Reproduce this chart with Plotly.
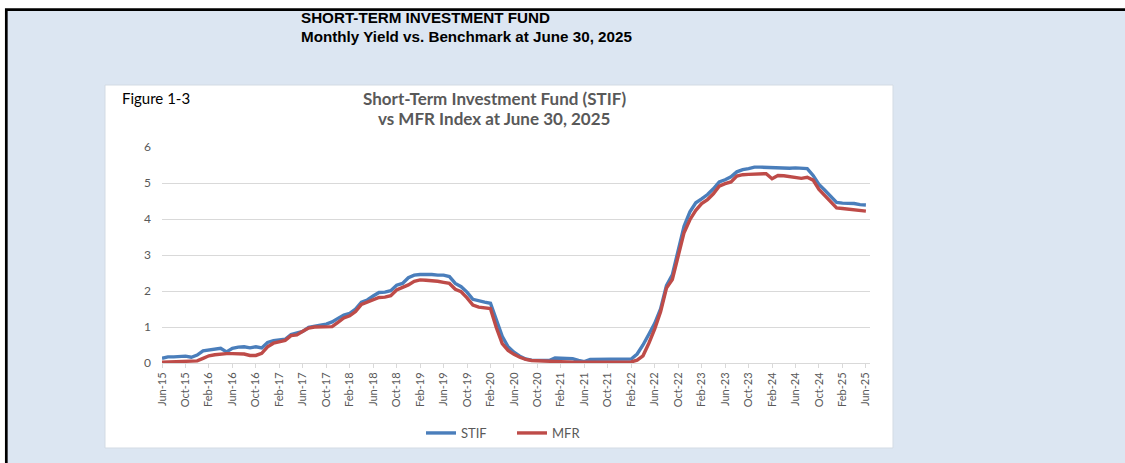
import plotly.graph_objects as go
import pandas as pd

# ---------------- data ----------------
months = pd.date_range("2015-06-01", periods=121, freq="MS").strftime("%b-%y").tolist()
tick_labels = months[::4]

stif = [0.13, 0.17, 0.17, 0.17, 0.19, 0.16, 0.22, 0.34, 0.37, 0.40,
        0.41, 0.31, 0.41, 0.44, 0.45, 0.42, 0.45, 0.42, 0.57, 0.62,
        0.64, 0.66, 0.79, 0.83, 0.88, 0.99, 1.03, 1.05, 1.08, 1.14,
        1.24, 1.33, 1.38, 1.50, 1.69, 1.75, 1.86, 1.96, 1.97, 2.01,
        2.16, 2.21, 2.37, 2.44, 2.46, 2.47, 2.46, 2.44, 2.44, 2.40,
        2.21, 2.12, 1.97, 1.77, 1.72, 1.69, 1.66, 1.21, 0.74, 0.45,
        0.30, 0.19, 0.11, 0.08, 0.07, 0.07, 0.07, 0.14, 0.13, 0.12,
        0.12, 0.07, 0.04, 0.10, 0.10, 0.09, 0.09, 0.09, 0.10, 0.10,
        0.11, 0.25, 0.50, 0.80, 1.10, 1.50, 2.15, 2.45, 3.10, 3.80,
        4.20, 4.45, 4.56, 4.68, 4.84, 5.03, 5.09, 5.17, 5.31, 5.37,
        5.40, 5.44, 5.44, 5.43, 5.43, 5.42, 5.42, 5.41, 5.42, 5.41,
        5.40, 5.21, 4.96, 4.80, 4.63, 4.46, 4.44, 4.44, 4.43, 4.40,
        4.39]

mfr = [0.02, 0.03, 0.03, 0.04, 0.05, 0.05, 0.06, 0.13, 0.20, 0.23,
       0.25, 0.26, 0.26, 0.26, 0.25, 0.21, 0.21, 0.27, 0.45, 0.55,
       0.58, 0.63, 0.76, 0.78, 0.88, 0.97, 1.00, 1.01, 1.00, 1.01,
       1.13, 1.25, 1.31, 1.43, 1.63, 1.70, 1.77, 1.82, 1.83, 1.87,
       2.03, 2.10, 2.17, 2.27, 2.31, 2.30, 2.29, 2.27, 2.24, 2.21,
       2.05, 1.98, 1.81, 1.61, 1.55, 1.53, 1.51, 0.98, 0.54, 0.35,
       0.24, 0.16, 0.10, 0.07, 0.06, 0.05, 0.04, 0.03, 0.03, 0.02,
       0.02, 0.02, 0.02, 0.02, 0.02, 0.02, 0.02, 0.02, 0.02, 0.02,
       0.03, 0.08, 0.20, 0.55, 0.95, 1.42, 2.08, 2.32, 2.95, 3.62,
       3.98, 4.24, 4.43, 4.54, 4.70, 4.91, 4.98, 5.03, 5.19, 5.23,
       5.24, 5.25, 5.26, 5.26, 5.12, 5.21, 5.20, 5.18, 5.14, 5.13,
       5.16, 5.08, 4.82, 4.66, 4.49, 4.31, 4.29, 4.27, 4.26, 4.22,
       4.22]

# ---------------- layout geometry (pixels) ----------------
W, H = 1125, 463
PL, PR, PT, PB = 162, 870, 147, 363
PW, PH = PR - PL, PB - PT


def px(x):
    return (x - PL) / PW


def py(y):
    return (PB - y) / PH


CAL = "Lato, Carlito, Calibri, sans-serif"
ARIAL = "Liberation Sans, Arial, sans-serif"
GREY = "#595959"

fig = go.Figure()
fig.add_trace(go.Scatter(x=months, y=stif, name="STIF", mode="lines",
                         line=dict(color="#4a7ebb", width=3.4)))
fig.add_trace(go.Scatter(x=months, y=mfr, name="MFR", mode="lines",
                         line=dict(color="#be4b48", width=3.4)))

shapes = [
    # light blue page with black top/left border
    dict(type="rect", xref="paper", yref="paper",
         x0=px(6.3), x1=px(1140), y0=py(9.6), y1=py(480),
         fillcolor="#dce6f2", line=dict(color="black", width=2.7), layer="below"),
    # white chart panel
    dict(type="rect", xref="paper", yref="paper",
         x0=px(105), x1=px(893), y0=py(85), y1=py(448),
         fillcolor="white", line=dict(color="#d3dbe4", width=1), layer="below"),
]


def ann(text, x, y, anchor, family, size, color):
    return dict(text=text, x=px(x), y=py(y), xref="paper", yref="paper",
                xanchor=anchor, yanchor="middle", showarrow=False,
                font=dict(family=family, size=size, color=color))


annotations = [
    ann("<b>SHORT-TERM INVESTMENT FUND</b>", 299, 17, "left", ARIAL, 15.2, "black"),
    ann("<b>Monthly Yield vs. Benchmark at June 30, 2025</b>", 299, 37, "left", ARIAL, 15.2, "black"),
    ann("Figure 1-3", 120, 98, "left", CAL, 15, "black"),
    ann("<b>Short-Term Investment Fund (STIF)</b>", 494, 98, "center", CAL, 17, GREY),
    ann("<b>vs MFR Index at June 30, 2025</b>", 494, 118, "center", CAL, 17, GREY),
]

fig.update_layout(
    width=W, height=H,
    margin=dict(l=PL, r=W - PR, t=PT, b=H - PB, pad=0),
    paper_bgcolor="white", plot_bgcolor="rgba(0,0,0,0)",
    shapes=shapes, annotations=annotations,
    showlegend=True,
    legend=dict(orientation="h", x=px(512), y=py(433), xanchor="center", yanchor="middle",
                font=dict(family=CAL, size=13, color=GREY), itemwidth=30,
                entrywidth=46, entrywidthmode="pixels",
                bgcolor="rgba(0,0,0,0)"),
    xaxis=dict(type="category", range=[0, 120.7], tickmode="array",
               tickvals=tick_labels, ticktext=tick_labels, tickangle=-90,
               ticks="outside", ticklen=4, tickcolor="#d9d9d9",
               showline=True, linecolor="#d9d9d9", linewidth=1,
               showgrid=False, zeroline=False,
               tickfont=dict(family=CAL, size=11, color=GREY)),
    yaxis=dict(range=[0, 6], dtick=1, tick0=0, showgrid=True, gridcolor="#d9d9d9",
               gridwidth=1, zeroline=False, showline=False, ticks="",
               ticklabelstandoff=10,
               tickfont=dict(family=CAL, size=12, color=GREY)),
)

fig.write_html("out.html", config={"displayModeBar": False},
               post_script="document.body.style.margin='0';")
